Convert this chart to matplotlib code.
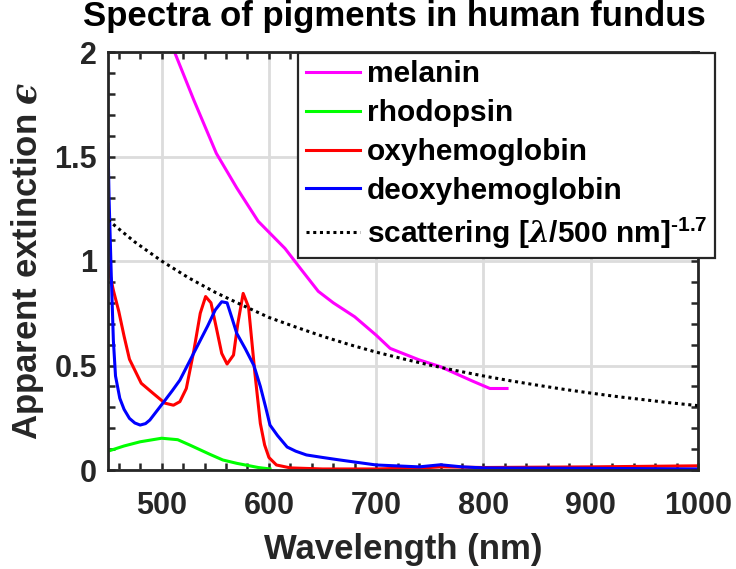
import numpy as np
import matplotlib
matplotlib.use("Agg")
import matplotlib.pyplot as plt
from matplotlib.ticker import MultipleLocator

## data
melanin_wl = [512, 530, 551, 570, 590, 615, 630, 646, 660, 680, 700, 713, 740, 760, 790, 806, 822]
melanin = [2.00, 1.77, 1.515, 1.35, 1.19, 1.06, 0.96, 0.855, 0.80, 0.733, 0.645, 0.582, 0.527, 0.494, 0.425, 0.39, 0.39]

rhodopsin_wl = [450, 465, 480, 500, 515, 526, 545, 557, 570, 580, 590, 601]
rhodopsin = [0.09, 0.115, 0.135, 0.152, 0.145, 0.12, 0.075, 0.048, 0.032, 0.022, 0.012, 0.005]

oxy_wl = [450, 455, 460, 465, 470, 481, 492, 503, 511, 517, 523, 530, 536, 541, 546, 551, 556, 561, 567, 571, 576, 581, 584, 587, 592, 596, 600, 607, 620, 650, 700, 750, 760, 800, 900, 1000]
oxy = [0.98, 0.86, 0.76, 0.64, 0.53, 0.415, 0.367, 0.32, 0.31, 0.327, 0.39, 0.57, 0.75, 0.83, 0.80, 0.68, 0.558, 0.507, 0.55, 0.70, 0.845, 0.78, 0.62, 0.46, 0.223, 0.12, 0.06, 0.024, 0.01, 0.005, 0.005, 0.012, 0.015, 0.012, 0.015, 0.02]

deoxy_wl = [450, 451, 453, 455, 457, 461, 465, 470, 475, 480, 485, 489, 501, 510, 517, 526, 536, 543, 550, 556, 561, 566, 570, 578, 586, 592, 597, 601, 608, 617, 625, 635, 650, 666, 700, 740, 760, 780, 800, 900, 1000]
deoxy = [1.56, 1.30, 0.94, 0.62, 0.45, 0.343, 0.29, 0.247, 0.225, 0.215, 0.222, 0.239, 0.319, 0.38, 0.43, 0.52, 0.62, 0.69, 0.766, 0.805, 0.80, 0.72, 0.654, 0.58, 0.50, 0.40, 0.30, 0.215, 0.165, 0.11, 0.09, 0.072, 0.06, 0.048, 0.024, 0.015, 0.025, 0.015, 0.01, 0.008, 0.005]

scat_wl = [450, 475, 500, 525, 550, 575, 600, 625, 650, 675, 700, 725, 750, 775, 800, 825, 850, 875, 900, 925, 950, 975, 1000]
scat = [1.196, 1.091, 1.0, 0.92, 0.85, 0.789, 0.73, 0.684, 0.64, 0.60, 0.564, 0.532, 0.502, 0.475, 0.45, 0.427, 0.406, 0.386, 0.368, 0.351, 0.336, 0.321, 0.308]

x_ticks = [500, 600, 700, 800, 900, 1000]
y_ticks = [0, 0.5, 1, 1.5, 2]
y_ticklabels = ["0", "0.5", "1", "1.5", "2"]

plt.rcParams['font.family'] = ['Liberation Sans', 'DejaVu Sans']
plt.rcParams['font.weight'] = 'bold'
plt.rcParams['mathtext.fontset'] = 'custom'
plt.rcParams['mathtext.rm'] = 'Liberation Sans'
plt.rcParams['mathtext.it'] = 'DejaVu Serif:italic'
plt.rcParams['mathtext.bf'] = 'Liberation Sans:bold'

dark = '#262626'
fig = plt.figure(figsize=(7.36, 5.69), dpi=100)
ax = fig.add_axes([108/736, 1 - 470/569, 590/736, 418/569])

lw = 2.2
ax.plot(melanin_wl, melanin, color='#ff00ff', lw=lw, label='melanin')
ax.plot(rhodopsin_wl, rhodopsin, color='#00ff00', lw=lw, label='rhodopsin')
ax.plot(oxy_wl, oxy, color='#ff0000', lw=lw, label='oxyhemoglobin')
ax.plot(deoxy_wl, deoxy, color='#0000ff', lw=lw, label='deoxyhemoglobin')
ax.plot(scat_wl, scat, color='black', lw=lw, linestyle=(0, (1, 1.2)),
        dash_capstyle='butt', label='scattering [$\\lambda$/500 nm]$^{\\mathbf{\u2010 1.7}}$')

ax.set_xlim(450, 1000)
ax.set_ylim(0, 2)
ax.set_xticks(x_ticks)
ax.set_yticks(y_ticks)
ax.set_yticklabels(y_ticklabels)
ax.xaxis.set_minor_locator(MultipleLocator(20))
ax.yaxis.set_minor_locator(MultipleLocator(0.1))
ax.tick_params(which='both', direction='in', top=True, right=True,
               length=5, width=1.8, color=dark)
ax.tick_params(axis='x', which='major', labelsize=22, pad=15, labelcolor=dark)
ax.tick_params(axis='y', which='major', labelsize=22, pad=8, labelcolor=dark)
for lab in ax.get_xticklabels() + ax.get_yticklabels():
    lab.set_fontweight('bold')

ax.grid(True, which='major', color='#dcdcdc', lw=2)
ax.set_axisbelow(True)
for sp in ax.spines.values():
    sp.set_color(dark)
    sp.set_linewidth(2)

ax.set_xlabel('Wavelength (nm)', fontsize=25, fontweight='bold', color=dark, labelpad=9)
ax.set_ylabel('Apparent extinction $\u03f5$', fontsize=25, fontweight='bold', color=dark, labelpad=6)
ax.set_title('Spectra of pigments in human fundus', fontsize=25, fontweight='bold',
             color='black', pad=19, x=0.486)

leg = ax.legend(loc='upper right', bbox_to_anchor=(715/736, 1 - 53/569),
                bbox_transform=fig.transFigure, borderaxespad=0,
                prop={'weight': 'bold', 'size': 21.5}, handlelength=1.8,
                handletextpad=0.25, labelspacing=0.36, borderpad=0.25,
                fancybox=False, framealpha=1)
leg.get_frame().set_edgecolor(dark)
leg.get_frame().set_linewidth(1.6)

fig.savefig('out.png', dpi=100)
